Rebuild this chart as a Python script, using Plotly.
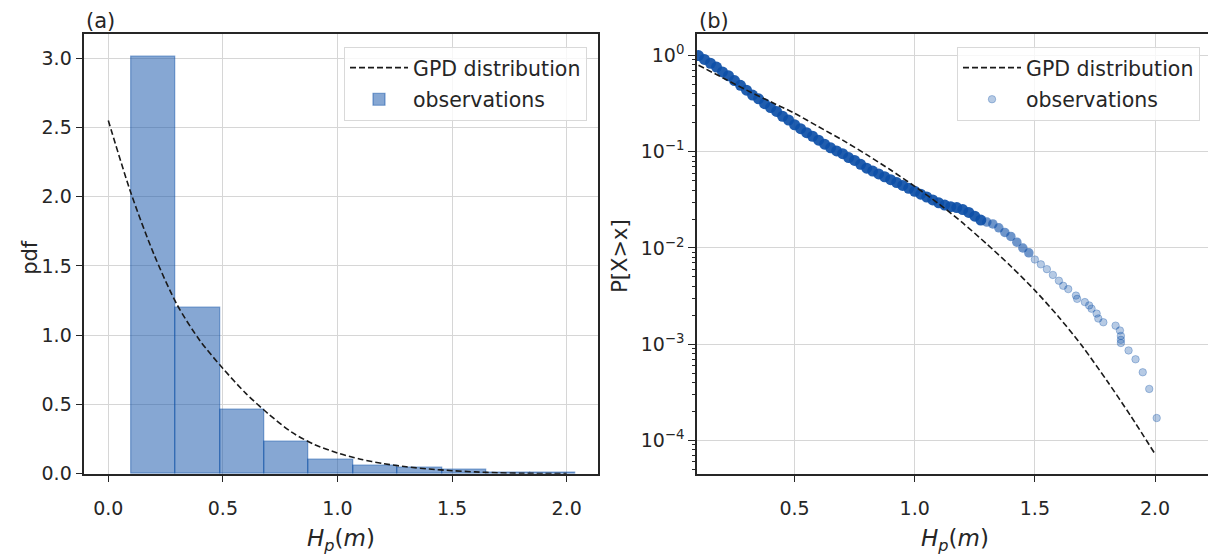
import plotly.graph_objects as go

# ---------------- data ----------------
# Panel (a): histogram of observations (density) and GPD pdf
bin_edges = [0.100, 0.2936, 0.4872, 0.6808, 0.8744, 1.0680, 1.2616, 1.4552, 1.6488, 1.8424, 2.0360]
pdf_heights = [3.01, 1.195, 0.464, 0.227, 0.104, 0.054, 0.040, 0.026, 0.004, 0.003]

gpd_pdf_x = [0.0, 0.1, 0.2, 0.3, 0.4, 0.5, 0.6, 0.7, 0.8, 0.9, 1.0,
             1.1, 1.2, 1.3, 1.4, 1.5, 1.6, 1.7, 1.8, 1.9, 2.0]
gpd_pdf_y = [2.55, 2.02, 1.58, 1.22, 0.96, 0.76, 0.58, 0.43, 0.30, 0.21, 0.15,
             0.105, 0.073, 0.050, 0.034, 0.022, 0.013, 0.007, 0.0035, 0.0015, 0.0005]

# Panel (b): exceedance probability P[X>x]
gpd_ccdf_x = [0.1, 0.2, 0.3, 0.4, 0.5, 0.6, 0.7, 0.8, 0.9, 1.0,
              1.1, 1.2, 1.3, 1.4, 1.5, 1.6, 1.7, 1.8, 1.9, 2.0]
gpd_ccdf_p = [0.794, 0.589, 0.437, 0.331, 0.251, 0.182, 0.132, 0.0933, 0.0646, 0.0437,
              0.0288, 0.0182, 0.0110, 0.00646, 0.00363, 0.00191, 0.000933, 0.000417, 0.000178, 0.0000724]

obs_dense_x = [0.100, 0.125, 0.150, 0.175, 0.200, 0.225, 0.250, 0.275, 0.300, 0.325,
               0.350, 0.375, 0.400, 0.425, 0.450, 0.475, 0.500, 0.525, 0.550, 0.575,
               0.600, 0.625, 0.650, 0.675, 0.700, 0.725, 0.750, 0.775, 0.800, 0.825,
               0.850, 0.875, 0.900, 0.925, 0.950, 0.975, 1.000, 1.025, 1.050, 1.075,
               1.100, 1.125, 1.150, 1.175, 1.200, 1.225, 1.250, 1.275]
obs_dense_p = [1.0, 0.912, 0.832, 0.759, 0.676, 0.617, 0.550, 0.490, 0.437, 0.389,
               0.355, 0.316, 0.288, 0.263, 0.234, 0.214, 0.191, 0.174, 0.158, 0.145,
               0.132, 0.120, 0.110, 0.102, 0.0955, 0.0871, 0.0813, 0.0741, 0.0676, 0.0631,
               0.0589, 0.0550, 0.0513, 0.0479, 0.0447, 0.0417, 0.0389, 0.0363, 0.0339, 0.0316,
               0.0295, 0.0279, 0.0269, 0.0263, 0.0251, 0.0234, 0.0214, 0.0195]

obs_mid_x = [1.300, 1.325, 1.350, 1.375, 1.400, 1.425, 1.450, 1.475]
obs_mid_p = [0.0186, 0.0178, 0.0162, 0.0145, 0.0132, 0.0115, 0.0100, 0.00891]

obs_tail_x = [1.500, 1.525, 1.550, 1.575, 1.600,
              1.618, 1.639, 1.671, 1.676, 1.708, 1.726, 1.736, 1.757, 1.764, 1.785,
              1.836, 1.854, 1.858, 1.858, 1.858, 1.890, 1.919, 1.949, 1.976, 2.007]
obs_tail_p = [0.00759, 0.00676, 0.00603, 0.00525, 0.00457,
              0.00405, 0.00374, 0.00320, 0.00296, 0.00274, 0.00253, 0.00234, 0.00208, 0.00185, 0.00169,
              0.00156, 0.00139, 0.00122, 0.00111, 0.00103, 0.000861, 0.000697, 0.000511, 0.000343, 0.000171]

x_ticks_a = [0.0, 0.5, 1.0, 1.5, 2.0]
y_ticks_a = [0.0, 0.5, 1.0, 1.5, 2.0, 2.5, 3.0]
x_ticks_b = [0.5, 1.0, 1.5, 2.0]
y_ticks_b = [1, 0.1, 0.01, 0.001, 0.0001]
y_ticktext_b = ["10<sup>0</sup>", "10<sup>\u22121</sup>", "10<sup>\u22122</sup>",
                "10<sup>\u22123</sup>", "10<sup>\u22124</sup>"]
y_minor_b = [m * d for d in (1e-5, 1e-4, 1e-3, 1e-2, 1e-1) for m in range(2, 10)]

# ---------------- styling ----------------
W, H = 1208, 555
BLUE = "13,79,167"
DARK = "#262626"
FONT = "DejaVu Sans, Arial, Liberation Sans, sans-serif"

fig = go.Figure()

bin_left = bin_edges[:-1]
bin_width = [b - a for a, b in zip(bin_edges[:-1], bin_edges[1:])]

fig.add_trace(go.Bar(
    x=bin_left, y=pdf_heights, width=bin_width, offset=0,
    marker=dict(color=f"rgba({BLUE},0.5)", line=dict(color=f"rgba({BLUE},0.5)", width=1.2)),
    name="observations", legend="legend", legendrank=2, legendgroup="a2",
    xaxis="x", yaxis="y"))
fig.add_trace(go.Scatter(
    x=gpd_pdf_x, y=gpd_pdf_y, mode="lines",
    line=dict(color="#1a1a1a", width=1.6, dash="6px,3px", shape="spline", smoothing=0.8),
    name="GPD distribution", legend="legend", legendrank=1, legendgroup="a1",
    xaxis="x", yaxis="y"))

fig.add_trace(go.Scatter(
    x=obs_dense_x, y=obs_dense_p, mode="markers",
    marker=dict(size=11, color=f"rgba({BLUE},0.92)", line=dict(width=0)),
    showlegend=False, xaxis="x2", yaxis="y2"))
fig.add_trace(go.Scatter(
    x=obs_mid_x, y=obs_mid_p, mode="markers",
    marker=dict(size=9.5, color=f"rgba({BLUE},0.6)", line=dict(width=0)),
    showlegend=False, xaxis="x2", yaxis="y2"))
fig.add_trace(go.Scatter(
    x=obs_tail_x, y=obs_tail_p, mode="markers",
    marker=dict(size=7.5, color=f"rgba({BLUE},0.3)", line=dict(width=1, color=f"rgba({BLUE},0.3)")),
    name="observations", legend="legend2", legendrank=2, legendgroup="b2",
    xaxis="x2", yaxis="y2"))
fig.add_trace(go.Scatter(
    x=gpd_ccdf_x, y=gpd_ccdf_p, mode="lines",
    line=dict(color="#1a1a1a", width=1.6, dash="6px,3px", shape="spline", smoothing=0.8),
    name="GPD distribution", legend="legend2", legendrank=1, legendgroup="b1",
    xaxis="x2", yaxis="y2"))
# empty helper trace so the minor-tick overlay axis is drawn
fig.add_trace(go.Scatter(x=[None], y=[None], mode="markers", showlegend=False,
                         hoverinfo="skip", xaxis="x2", yaxis="y3"))

axis_common = dict(
    showline=True, linecolor=DARK, linewidth=1.5,
    ticks="outside", ticklen=7, tickwidth=1.3, tickcolor=DARK,
    showgrid=True, gridcolor="#d6d6d6", gridwidth=1, zeroline=False,
    tickfont=dict(family=FONT, size=19, color=DARK),
)

y_top = 1 - 34.5 / H
y_bot = 1 - 483.3 / H
yb_range = [-4.346, 0.226]

legend_common = dict(
    yanchor="top", y=1 - 47.7 / H, xanchor="right",
    bgcolor="rgba(255,255,255,0.8)", bordercolor="#d9d9d9", borderwidth=1,
    font=dict(family=FONT, size=20.5, color=DARK), tracegroupgap=2, itemwidth=58,
)

fig.update_layout(
    width=W, height=H,
    margin=dict(l=0, r=0, t=0, b=0),
    paper_bgcolor="white", plot_bgcolor="white",
    font=dict(family=FONT, color=DARK),
    bargap=0,
    xaxis=dict(axis_common, domain=[84.3 / W, 598.3 / W], range=[-0.1047, 2.138],
               tickvals=x_ticks_a, tickformat=".1f", mirror=True, anchor="y",
               ticklabelstandoff=10),
    yaxis=dict(axis_common, domain=[y_bot, y_top], range=[0, 3.175],
               tickvals=y_ticks_a, tickformat=".1f", mirror=True, anchor="x"),
    xaxis2=dict(axis_common, domain=[697 / W, 1.0], range=[0.0938, 2.2206],
                tickvals=x_ticks_b, tickformat=".1f", mirror=True, anchor="y2",
                ticklabelstandoff=10),
    yaxis2=dict(axis_common, domain=[y_bot, y_top], type="log", range=yb_range,
                tickvals=y_ticks_b, ticktext=y_ticktext_b, anchor="x2"),
    yaxis3=dict(domain=[y_bot, y_top], type="log", range=yb_range, overlaying="y2",
                anchor="x2", side="left", tickmode="array", tickvals=y_minor_b,
                ticks="outside", ticklen=4, tickwidth=1, tickcolor=DARK,
                showticklabels=False, showgrid=False, showline=False, zeroline=False),
    legend=dict(legend_common, x=587 / W),
    legend2=dict(legend_common, x=1200 / W),
    showlegend=True,
)

xtitle = "<i>H</i><sub><i>p</i></sub>(<i>m</i>)"
ann = [
    dict(text="(a)", x=84.3 / W, y=1 - 36 / H, xanchor="left", yanchor="bottom", size=21),
    dict(text="(b)", x=697 / W, y=1 - 36 / H, xanchor="left", yanchor="bottom", size=21),
    dict(text="pdf", x=30 / W, y=1 - 262 / H, textangle=-90, xanchor="center", yanchor="middle", size=21),
    dict(text="P[X>x]", x=620 / W, y=1 - 262 / H, textangle=-90, xanchor="center", yanchor="middle", size=21),
    dict(text=xtitle, x=341.3 / W, y=1 - 551 / H, xanchor="center", yanchor="middle", size=23),
    dict(text=xtitle, x=955 / W, y=1 - 551 / H, xanchor="center", yanchor="middle", size=23),
]
annotations = []
for a in ann:
    size = a.pop("size")
    a.update(xref="paper", yref="paper", showarrow=False,
             font=dict(family=FONT, color=DARK, size=size))
    annotations.append(a)
fig.update_layout(annotations=annotations)

fig.write_html("out.html", config={"displayModeBar": False})
